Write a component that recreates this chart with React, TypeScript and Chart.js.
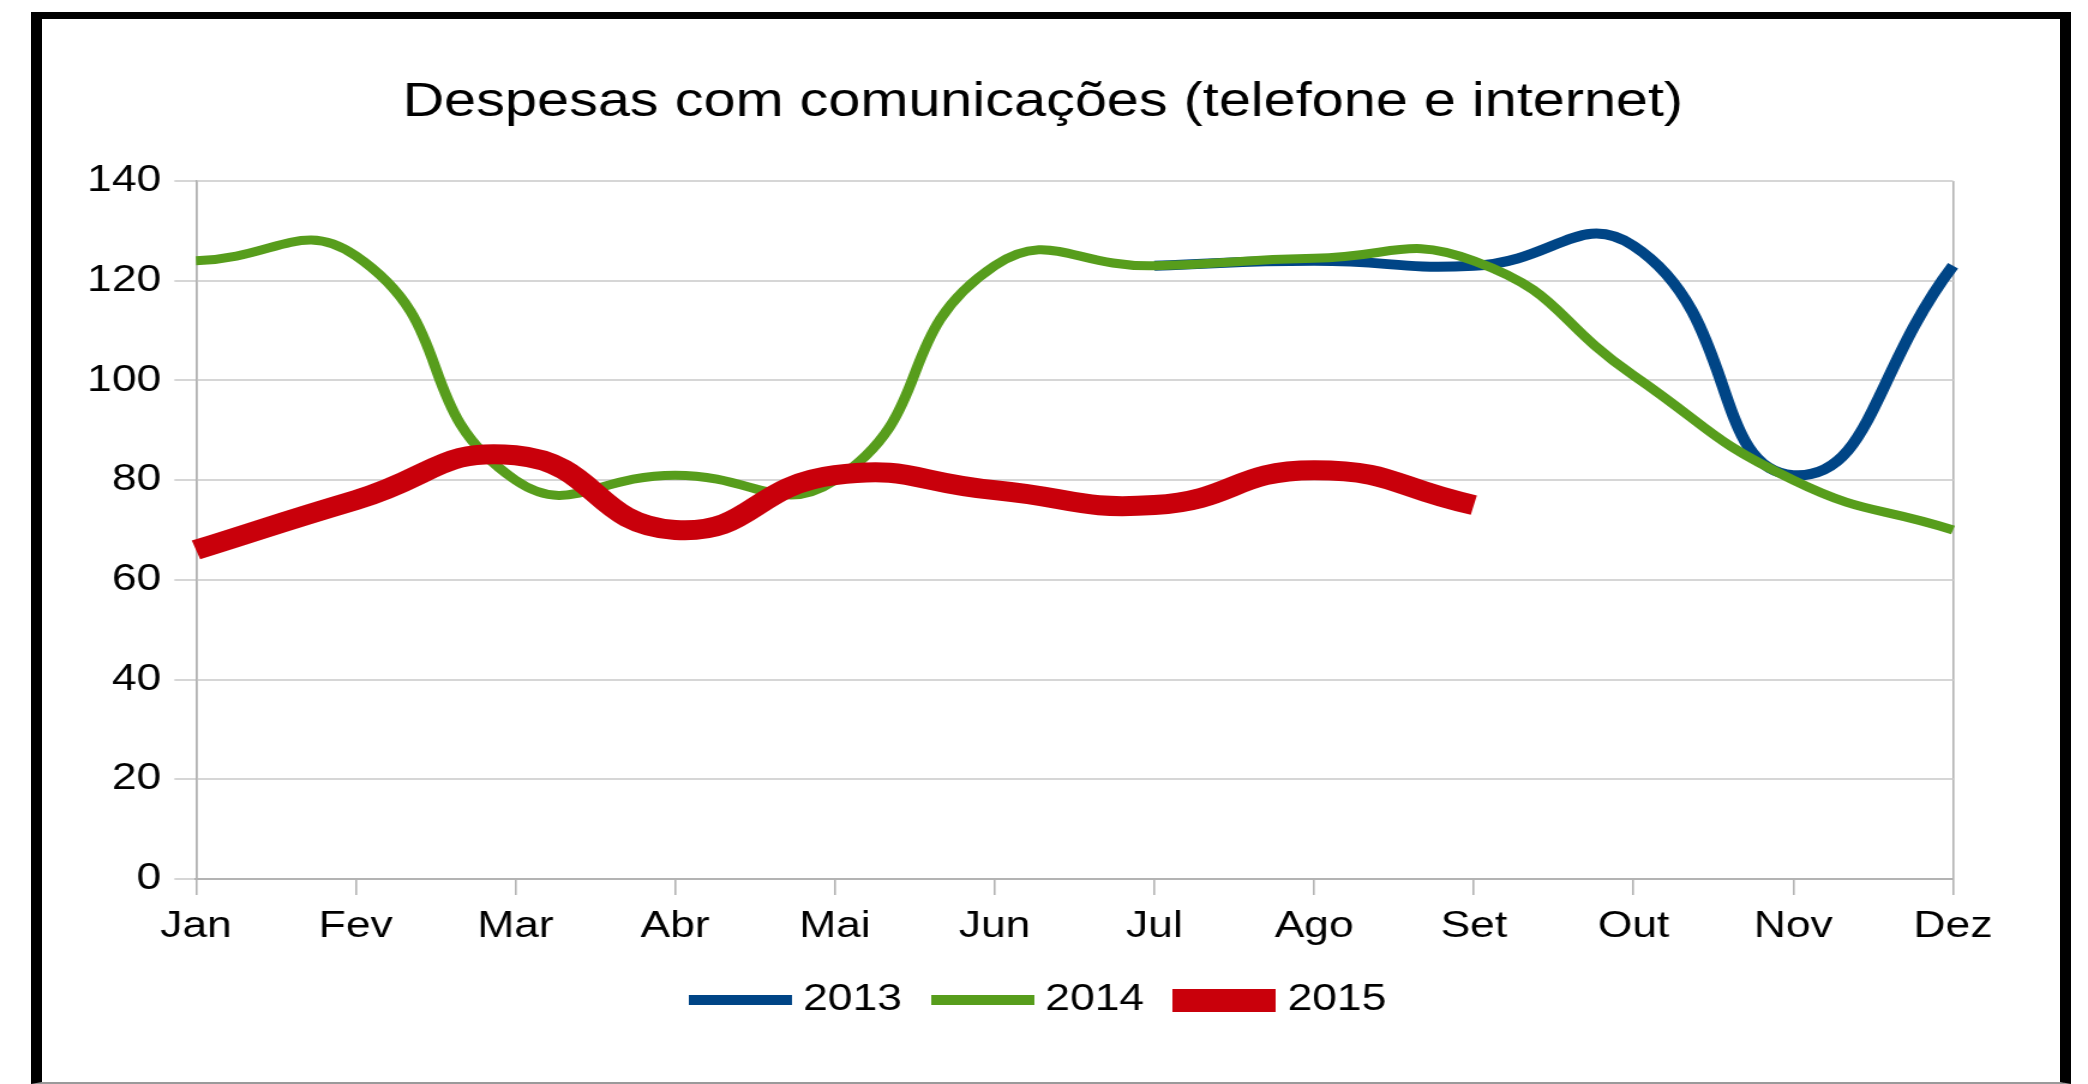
import React, { useEffect, useRef } from "react";
import { Chart, registerables } from "chart.js";

Chart.register(...registerables);

// ---- data ----
const months = ["Jan", "Fev", "Mar", "Abr", "Mai", "Jun", "Jul", "Ago", "Set", "Out", "Nov", "Dez"];
const values2013: (number | null)[] = [null, null, null, null, null, null, 123, 124, 123, 127, 81, 123];
const values2014: (number | null)[] = [124, 125, 80, 81, 80, 123, 123, 124.5, 124, 101, 80, 70];
const values2015: (number | null)[] = [66, 76, 85, 70, 81, 78, 75, 82, 75];
const seriesNames = ["2013", "2014", "2015"];
const yMin = 0;
const yMax = 140;
const yStep = 20;
const titleText = "Despesas com comunicações (telefone e internet)";

// ---- styles ----
const colors = ["#004586", "#579d1c", "#c9000b"];
const lineWidths = [10, 9, 20];
const swatchHeights = [10, 10, 23];
const FONT = "'Liberation Sans', Arial, sans-serif";
const STRETCH = 1.2;
const CW = 1740;
const CH = 1084;
const gridGray = "#d6d6d6";
const axisGray = "#b3b3b3";

function makeSwatch(color: string, h: number): HTMLCanvasElement {
  const c = document.createElement("canvas");
  c.width = 86;
  c.height = h;
  const ctx = c.getContext("2d")!;
  ctx.fillStyle = color;
  ctx.fillRect(0, 0, 86, h);
  return c;
}

// lets the y tick labels draw outside the narrow axis box
const widenLabelArea = {
  id: "widenLabelArea",
  afterLayout(chart: any) {
    const y = chart.scales.y;
    if (y) y.left = 0;
  },
};

export default function App() {
  const ref = useRef<HTMLCanvasElement | null>(null);

  useEffect(() => {
    if (!ref.current) return;
    const swatches = colors.map((c, i) => makeSwatch(c, swatchHeights[i]));
    const dataArrays = [values2013, values2014, values2015];
    const chart = new Chart(ref.current, {
      type: "line",
      data: {
        labels: months,
        datasets: dataArrays.map((d, i) => ({
          label: seriesNames[i],
          data: d,
          borderColor: colors[i],
          backgroundColor: colors[i],
          borderWidth: lineWidths[i],
          pointRadius: 0,
          pointHoverRadius: 0,
          tension: 0.5,
          fill: false,
          order: 2 - i,
        })),
      },
      options: {
        responsive: false,
        animation: false,
        devicePixelRatio: 1,
        events: [],
        layout: { padding: { left: 110.5, right: 112.5, top: 0, bottom: 55.5 } },
        scales: {
          x: {
            grid: {
              color: (ctx: any) => (ctx.index === 0 || ctx.index === months.length - 1 ? axisGray : "rgba(0,0,0,0)"),
              tickColor: axisGray,
              tickLength: 16,
              lineWidth: 1.6,
              drawTicks: true,
            },
            border: { display: true, color: axisGray, width: 2 },
            ticks: {
              color: "#000",
              font: { family: FONT, size: 37 },
              padding: 10,
              maxRotation: 0,
              autoSkip: false,
            },
            afterFit: (s: any) => {
              s.height = 69.5;
            },
          },
          y: {
            min: yMin,
            max: yMax,
            grid: { color: gridGray, tickColor: gridGray, tickLength: 18, lineWidth: 2 },
            border: { display: true, color: axisGray, width: 1.6 },
            ticks: {
              stepSize: yStep,
              color: "#000",
              font: { family: FONT, size: 37 },
              padding: 11,
            },
            afterFit: (s: any) => {
              s.width = 52.8;
            },
          },
        },
        plugins: {
          title: {
            display: true,
            text: titleText,
            color: "#000",
            font: { family: FONT, size: 48, weight: "normal" },
            padding: { top: 74.2, bottom: 49.2 },
          },
          legend: {
            display: true,
            position: "bottom",
            labels: {
              usePointStyle: true,
              pointStyleWidth: 68,
              padding: 33,
              color: "#000",
              font: { family: FONT, size: 37 },
              generateLabels: (ch: any) => {
                const items = (Chart.defaults as any).plugins.legend.labels.generateLabels(ch);
                return items
                  .sort((a: any, b: any) => a.datasetIndex - b.datasetIndex)
                  .map((it: any) => ({ ...it, pointStyle: swatches[it.datasetIndex], lineWidth: 0 }));
              },
            },
          },
          tooltip: { enabled: false },
        },
      } as any,
      plugins: [widenLabelArea],
    });
    return () => chart.destroy();
  }, []);

  return (
    <div
      style={{
        position: "fixed",
        left: 0,
        top: 0,
        width: 2088,
        height: 1084,
        background: "#fff",
        overflow: "hidden",
      }}
    >
      <canvas
        ref={ref}
        width={CW}
        height={CH}
        style={{
          position: "absolute",
          left: 0,
          top: 0,
          width: CW,
          height: CH,
          transform: `scaleX(${STRETCH})`,
          transformOrigin: "0 0",
        }}
      />
      <div
        style={{
          position: "absolute",
          left: 31,
          top: 12,
          width: 2071 - 31,
          height: 1084 - 12,
          boxSizing: "border-box",
          borderLeft: "11px solid #000",
          borderRight: "11px solid #000",
          borderTop: "7px solid #000",
          borderBottom: "2px solid #9a9a9a",
          pointerEvents: "none",
        }}
      />
    </div>
  );
}
